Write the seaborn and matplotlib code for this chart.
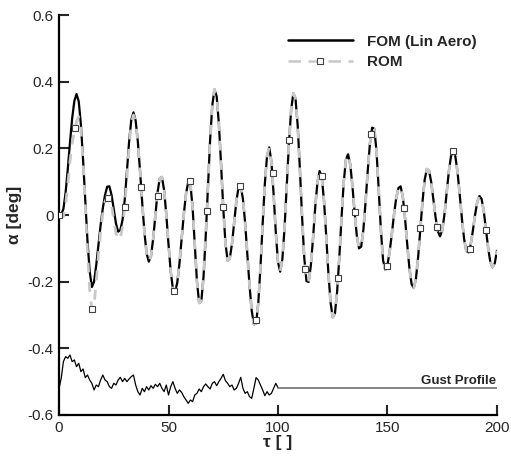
import numpy as np
import pandas as pd
import matplotlib
matplotlib.use("Agg")
import matplotlib.pyplot as plt
from matplotlib.lines import Line2D
import seaborn as sns

# values
tau = list(range(0, 201))

alpha_fom = [
    0.000, 0.002, 0.018, 0.067, 0.138, 0.217, 0.290, 0.342, 0.363, 0.341,
    0.271, 0.164, 0.040, -0.078, -0.169, -0.216, -0.200, -0.150, -0.090, -0.030,
    0.020, 0.060, 0.085, 0.086, 0.060, 0.017, -0.025, -0.050, -0.045, -0.015,
    0.045, 0.130, 0.220, 0.285, 0.308, 0.283, 0.220, 0.132, 0.036, -0.052,
    -0.115, -0.140, -0.123, -0.071, 0.000, 0.068, 0.110, 0.114, 0.074, 0.001,
    -0.088, -0.169, -0.221, -0.230, -0.203, -0.146, -0.072, 0.003, 0.064, 0.099,
    0.093, 0.023, -0.089, -0.200, -0.264, -0.258, -0.185, -0.063, 0.084, 0.225,
    0.329, 0.377, 0.356, 0.274, 0.152, 0.022, -0.084, -0.137, -0.130, -0.086,
    -0.022, 0.042, 0.083, 0.087, 0.048, -0.024, -0.117, -0.211, -0.287, -0.328,
    -0.326, -0.264, -0.156, -0.026, 0.094, 0.177, 0.203, 0.160, 0.063, -0.052,
    -0.141, -0.170, -0.132, -0.039, 0.086, 0.214, 0.315, 0.365, 0.350, 0.268,
    0.138, -0.005, -0.128, -0.198, -0.201, -0.152, -0.070, 0.023, 0.097, 0.132,
    0.114, 0.044, -0.060, -0.172, -0.262, -0.307, -0.296, -0.231, -0.128, -0.010,
    0.096, 0.165, 0.182, 0.152, 0.087, 0.008, -0.062, -0.100, -0.095, -0.044,
    0.039, 0.134, 0.215, 0.262, 0.259, 0.191, 0.077, -0.046, -0.136, -0.165,
    -0.149, -0.110, -0.056, 0.002, 0.051, 0.081, 0.086, 0.055, -0.008, -0.086,
    -0.158, -0.207, -0.219, -0.191, -0.127, -0.044, 0.040, 0.106, 0.138, 0.133,
    0.098, 0.046, -0.008, -0.049, -0.064, -0.047, 0.000, 0.065, 0.129, 0.176,
    0.193, 0.176, 0.129, 0.061, -0.011, -0.072, -0.108, -0.112, -0.089, -0.047,
    0.000, 0.039, 0.057, 0.048, 0.011, -0.044, -0.100, -0.142, -0.157, -0.145,
    -0.107,
]

# ROM departs from FOM only in the first ~37 time units
alpha_rom_early = [
    0.000, -0.005, -0.005, 0.030, 0.090, 0.160, 0.215, 0.250, 0.280, 0.295,
    0.255, 0.160, 0.030, -0.110, -0.225, -0.285, -0.270, -0.200, -0.120, -0.050,
    0.005, 0.040, 0.055, 0.055, 0.030, -0.015, -0.055, -0.075, -0.070, -0.035,
    0.023, 0.110, 0.205, 0.275, 0.300, 0.280, 0.220, 0.130,
]
alpha_rom = alpha_rom_early + alpha_fom[len(alpha_rom_early):]

# ROM square markers
rom_mark_tau = [0, 7.5, 15, 22.5, 30, 37.5, 45, 52.5, 60, 67.5, 75, 82.5, 90, 97.5,
                105, 112.5, 120, 127.5, 135, 142.5, 150, 157.5, 165, 172.5, 180,
                187.5, 195]
rom_mark_val = [0.000, 0.260, -0.282, 0.050, 0.023, 0.085, 0.058, -0.228, 0.103,
                0.011, 0.023, 0.088, -0.314, 0.126, 0.226, -0.162, 0.116, -0.189,
                0.010, 0.243, -0.152, 0.021, -0.039, -0.037, 0.191, -0.102, -0.045]

# gust profile (scaled), noisy part and flat tail
gust_tau = list(range(0, 101))
gust_val = [
    -0.520, -0.490, -0.440, -0.425, -0.430, -0.420, -0.440, -0.435, -0.455, -0.445,
    -0.470, -0.462, -0.488, -0.480, -0.495, -0.505, -0.525, -0.510, -0.515, -0.495,
    -0.480, -0.495, -0.500, -0.515, -0.520, -0.505, -0.510, -0.495, -0.487, -0.500,
    -0.490, -0.500, -0.492, -0.485, -0.480, -0.510, -0.530, -0.540, -0.520, -0.530,
    -0.515, -0.525, -0.512, -0.520, -0.508, -0.515, -0.505, -0.520, -0.530, -0.510,
    -0.540, -0.515, -0.500, -0.520, -0.535, -0.525, -0.532, -0.545, -0.555, -0.565,
    -0.555, -0.560, -0.540, -0.535, -0.522, -0.530, -0.515, -0.507, -0.515, -0.522,
    -0.505, -0.500, -0.512, -0.500, -0.490, -0.478, -0.497, -0.505, -0.515, -0.510,
    -0.525, -0.520, -0.505, -0.487, -0.520, -0.535, -0.530, -0.545, -0.550, -0.520,
    -0.488, -0.495, -0.510, -0.525, -0.542, -0.530, -0.540, -0.535, -0.520, -0.505,
    -0.518,
]
gust_flat_tau = [100, 200]
gust_flat_val = [-0.518, -0.518]

yticks = [-0.6, -0.4, -0.2, 0.0, 0.2, 0.4, 0.6]
ytick_labels = ["-0.6", "-0.4", "-0.2", "0", "0.2", "0.4", "0.6"]
xticks = [0, 50, 100, 150, 200]

sns.set_style("ticks")
plt.rcParams["font.family"] = ["Liberation Sans", "DejaVu Sans"]
plt.rcParams["font.size"] = 10

fig = plt.figure(figsize=(5.11, 4.58), dpi=100)
ax = fig.add_axes([0.1155, 0.0939, 0.857, 0.8733])

rom_color = "#c8c8c8"
rom_ls = (0, (3.5, 3.5))

sns.lineplot(x=tau, y=alpha_fom, ax=ax, color="black", lw=1.6, errorbar=None, zorder=3)
sns.lineplot(x=tau, y=alpha_rom, ax=ax, color=rom_color, lw=2.0, linestyle=rom_ls,
             errorbar=None, zorder=4)
ax.plot(rom_mark_tau, rom_mark_val, ls="none", marker="s", ms=3.8, mfc="white",
        mec="#404040", mew=0.8, zorder=5)

sns.lineplot(x=gust_tau, y=gust_val, ax=ax, color="black", lw=0.9, errorbar=None, zorder=3)
sns.lineplot(x=gust_flat_tau, y=gust_flat_val, ax=ax, color="#707070", lw=1.2,
             errorbar=None, zorder=3)
ax.text(199.5, -0.508, "Gust Profile", ha="right", va="baseline", fontsize=9.5,
        fontweight="bold")

ax.set_xlim(0, 200)
ax.set_ylim(-0.6, 0.6)
ax.set_xticks(xticks)
ax.set_xticklabels([str(v) for v in xticks])
ax.set_yticks(yticks)
ax.set_yticklabels(ytick_labels)
ax.tick_params(direction="in", length=7, width=1.5, labelsize=11, pad=4)
for s in ["top", "right"]:
    ax.spines[s].set_visible(False)
for s in ["left", "bottom"]:
    ax.spines[s].set_linewidth(1.6)
    ax.spines[s].set_color("black")

ax.set_xlabel("τ [ ]", fontsize=12.5, fontweight="bold", labelpad=0)
ax.set_ylabel("α [deg]", fontsize=12.5, fontweight="bold", labelpad=4)

handles = [
    Line2D([], [], color="black", lw=1.8),
    Line2D([], [], color=rom_color, lw=1.8, linestyle=(0, (5, 3)), marker="s",
           ms=3.8, mfc="white", mec="#404040", mew=0.8),
]
ax.legend(handles, ["FOM (Lin Aero)", "ROM"], loc="upper right",
          bbox_to_anchor=(0.985, 0.985), frameon=False, handlelength=4.3,
          handletextpad=0.9, labelspacing=0.4, numpoints=1,
          prop={"weight": "bold", "size": 11})

fig.savefig("out.png", dpi=100)
